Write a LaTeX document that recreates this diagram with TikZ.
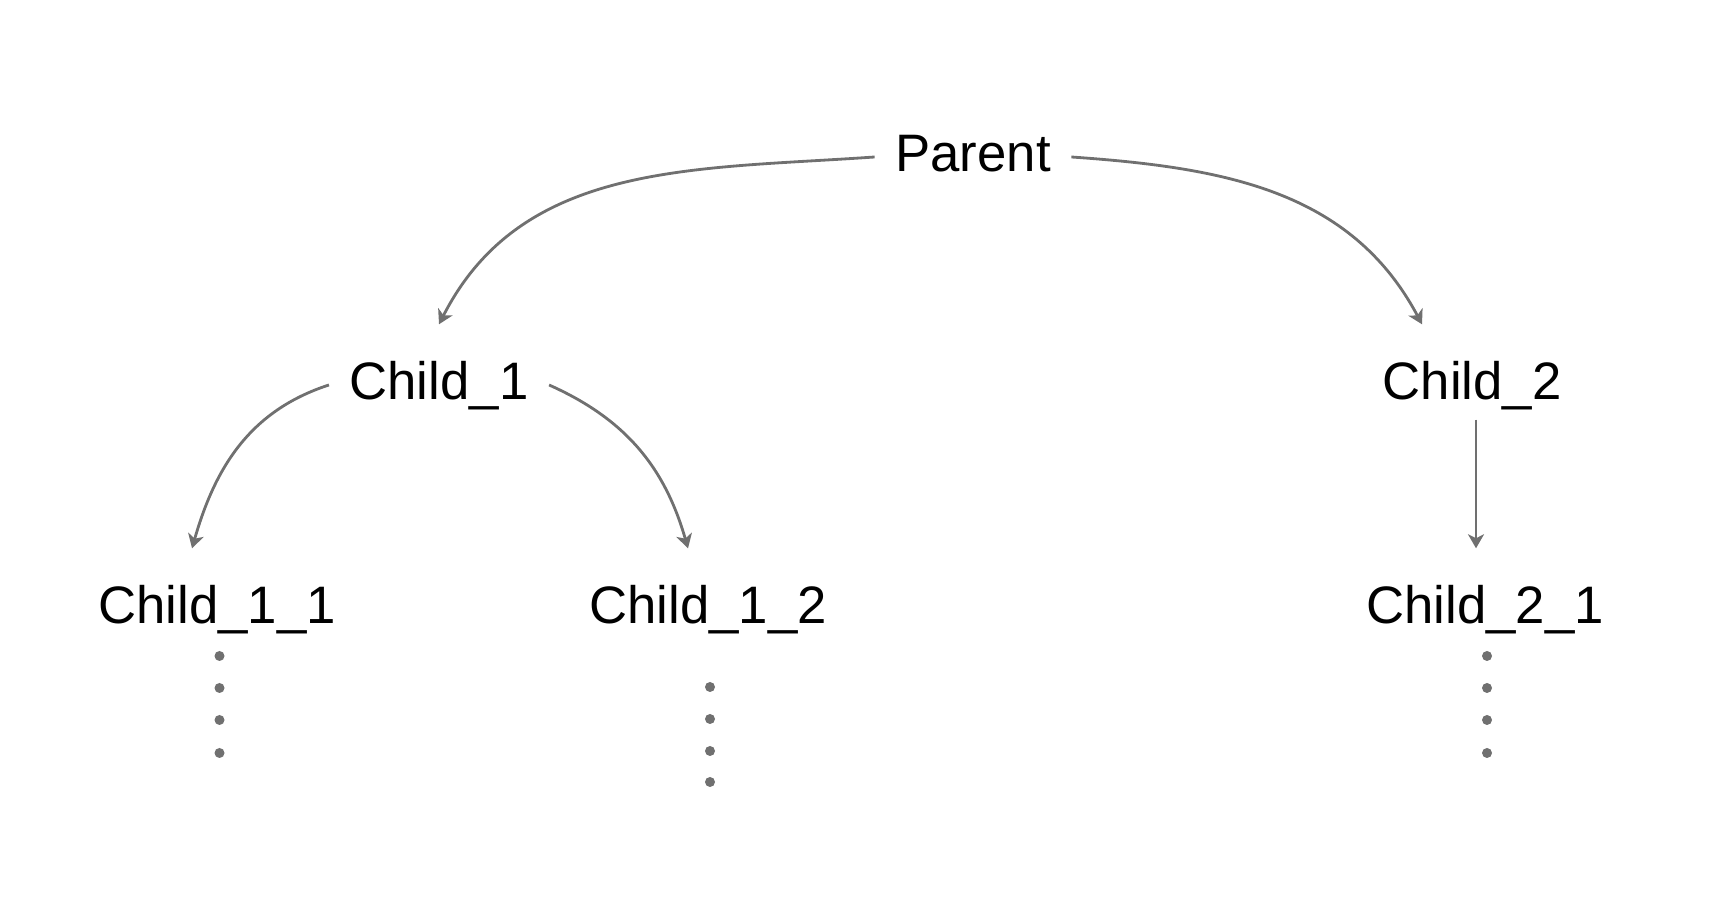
\documentclass[tikz,border=0pt]{standalone}
\usepackage{fontspec}
\setmainfont{Liberation Sans}
\usetikzlibrary{arrows.meta}

\definecolor{linkgray}{HTML}{707070}

\begin{document}
\begin{tikzpicture}[
    treenode/.style={font=\fontsize{15}{18}\selectfont, anchor=base, inner xsep=2mm, inner ysep=3.5mm, text height=4mm, text depth=1mm},
    link/.style={linkgray, line width=0.8pt, -{Stealth[length=1.4mm, width=1.6mm, inset=0.4mm]}}]

\useasboundingbox (0,0) rectangle (17.12,9.10);

\node[treenode] (Parent) at (9.73,7.38) {Parent};

\node[treenode] (Child_1) at (4.39,5.10) {Child\_1};
\node[treenode] (Child_2) at (14.72,5.10) {Child\_2};

\node[treenode] (Child_1_1) at (2.17,2.86) {Child\_1\_1};
\node[treenode] (Child_1_2) at (7.08,2.86) {Child\_1\_2};
\node[treenode] (Child_2_1) at (14.85,2.86) {Child\_2\_1};

\draw[link] (Parent.west) to[out=184, in=63] (Child_1.north);
\draw[link] (Parent.east) to[out=-4, in=118] ([xshift=-5mm]Child_2.north);

\draw[link] (Child_1.west) to[out=198, in=74] ([xshift=-2.5mm]Child_1_1.north);
\draw[link] (Child_1.east) to[out=-24, in=106] ([xshift=-2mm]Child_1_2.north);

\draw[link] ([xshift=-0.9mm, yshift=2.6mm]Child_2_1.north |- Child_2.south) -- ([xshift=-0.9mm]Child_2_1.north);

\foreach \y in {2.54, 2.22, 1.90, 1.57}
    \fill[linkgray] (2.195,\y) circle (0.05);
\foreach \y in {2.23, 1.91, 1.59, 1.28}
    \fill[linkgray] (7.10,\y) circle (0.05);
\foreach \y in {2.54, 2.22, 1.90, 1.57}
    \fill[linkgray] (14.87,\y) circle (0.05);

\end{tikzpicture}
\end{document}
